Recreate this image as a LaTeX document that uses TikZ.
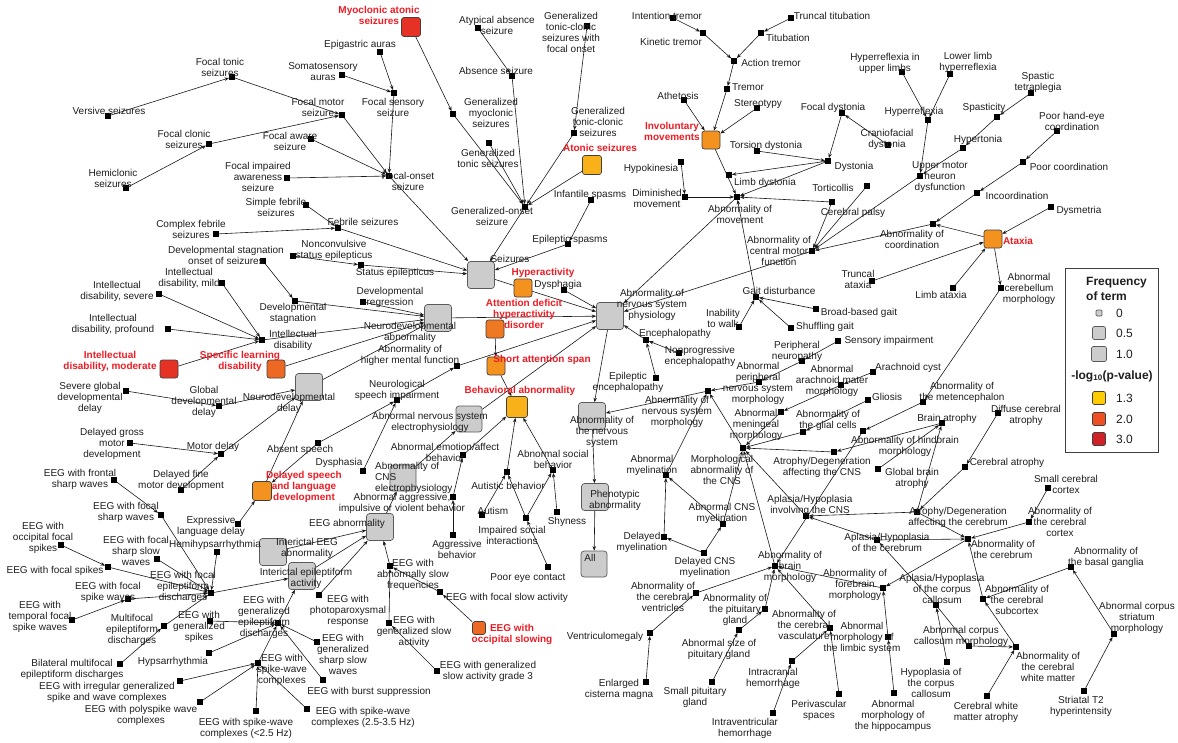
\documentclass[tikz,border=0pt]{standalone}
\usepackage{fontspec}
\setmainfont{Liberation Sans}
\usetikzlibrary{arrows.meta}
\pgfdeclarelayer{edges}
\pgfsetlayers{edges,main}
\definecolor{txt}{RGB}{30,30,30}
\definecolor{redtxt}{RGB}{236,28,36}
\definecolor{gfill}{RGB}{204,204,204}
\definecolor{gdraw}{RGB}{90,90,90}
\definecolor{cYel}{RGB}{249,177,26}
\definecolor{cOra}{RGB}{244,146,32}
\definecolor{cOrb}{RGB}{239,120,34}
\definecolor{cOrc}{RGB}{237,104,35}
\definecolor{cRed}{RGB}{229,50,36}
\definecolor{lYel}{RGB}{255,204,0}
\definecolor{lOra}{RGB}{240,78,35}
\definecolor{lRed}{RGB}{210,32,39}
\tikzset{
 mk/.style={rectangle,fill=black,minimum size=5.5pt,inner sep=0pt},
 gbox/.style={rectangle,rounded corners=3pt,draw=gdraw,fill=gfill,line width=0.7pt,inner sep=0pt},
 cbox/.style={rectangle,rounded corners=2.5pt,draw=black!75,line width=0.7pt,inner sep=0pt},
 lbl/.style={font=\fontsize{10}{11}\selectfont,align=center,inner sep=0pt,text=txt},
 rlbl/.style={lbl,font=\fontsize{10}{11}\selectfont\bfseries,text=redtxt},
 ed/.style={draw=black!90,line width=0.6pt,-{Stealth[length=4.5pt,width=3.5pt]}},
 lgt/.style={font=\fontsize{12}{15}\selectfont\bfseries,align=left,inner sep=0pt,text=txt},
 lgn/.style={font=\fontsize{12}{14}\selectfont,inner sep=0pt,text=txt,anchor=west},
}
\newcommand\Mk[3]{\node[mk] (#1) at (#2,#3) {};}
\newcommand\Gb[4][27]{\node[gbox,minimum size=#1pt] (#2) at (#3,#4) {};}
\newcommand\Cb[5][18]{\node[cbox,minimum size=#1pt,fill=#5] (#2) at (#3,#4) {};}
\newcommand\Lb[4]{\node[lbl] (#1-l) at (#2,#3) {#4};}
\newcommand\Rb[4]{\node[rlbl] (#1-l) at (#2,#3) {#4};}
\newcommand\Ed[2]{\draw[ed] (#1) -- (#2);}
\begin{document}
\begin{tikzpicture}[x=1pt,y=-1pt]
\useasboundingbox (0,0) rectangle (1178,742);
% ---------------- markers and boxes ----------------
% seizures
\Mk{ftonic}{232}{77}\Mk{versive}{108}{116}\Mk{fclonic}{209}{144}\Mk{hemiclonic}{126}{188}
\Mk{fimpaired}{287}{178}\Mk{sfebrile}{306}{205}\Mk{cfebrile}{216}{234}\Mk{febrile}{338}{228}
\Mk{fmotor}{342}{115}\Mk{faware}{311}{139}\Mk{epigastric}{380}{52}\Mk{somato}{342}{75}
\Mk{fsensory}{394}{93}\Mk{fonset}{389}{176}
\Cb[19]{myoatonic}{411}{27}{cRed}
\Mk{genmyo}{453}{114}\Mk{atypabs}{478}{28}\Mk{absence}{512}{76}\Mk{gentonic}{489}{143}
\Mk{gtcsfocal}{587}{26}\Mk{gtcs}{574}{133}
\Cb[19]{atonic}{592}{165}{cYel}
\Mk{genonset}{525}{207}\Mk{infspasm}{591}{200}\Mk{epispasm}{568}{244}
\Mk{ncse}{293}{256}\Mk{statusep}{361}{265}
\Gb{seizures}{481}{275}
% movement
\Mk{inttremor}{673}{18}\Mk{kintremor}{703}{33}\Mk{trunctit}{791}{18}\Mk{titubation}{761}{33}
\Mk{actremor}{734}{61}\Mk{tremor}{727}{89}\Mk{athetosis}{684}{100}\Mk{stereotypy}{757}{108}
\Cb{invol}{711}{140}{cOra}
\Mk{hypokin}{681}{162}\Mk{dimmov}{685}{197}\Mk{abnmov}{737}{197}\Mk{torsion}{757}{151}
\Mk{focdyst}{842}{113}\Mk{dystonia}{828}{161}\Mk{cranio}{888}{145}\Mk{limbdyst}{729}{175}
\Mk{torticollis}{867}{186}\Mk{cpalsy}{832}{202}
% motor function
\Mk{hruppr}{902}{72}\Mk{llhyper}{950}{74}\Mk{hyperrefl}{928}{120}\Mk{umn}{920}{176}
\Mk{spastetra}{1031}{93}\Mk{spasticity}{997}{117}\Mk{hypertonia}{963}{148}
\Mk{handeye}{1057}{131}\Mk{poorcoord}{1023}{162}\Mk{incoord}{977}{193}\Mk{abncoord}{933}{224}
\Mk{dysmetria}{1051}{207}
\Cb{ataxia}{993}{239}{cOra}
\Mk{truncataxia}{872}{281}\Mk{limbataxia}{953}{288}\Mk{cerebellum}{1001}{288}
\Mk{cmotor}{812}{251}
\Mk{gait}{756}{297}\Mk{inabwalk}{739}{327}\Mk{broadgait}{816}{309}\Mk{shuffgait}{791}{328}
% NS physiology
\Gb{nsphys}{610}{316}
\Mk{dysphagia}{564}{290}\Mk{enceph}{646}{340}\Mk{nonprog}{679}{353}\Mk{epienceph}{656}{378}
% neurodevelopment
\Gb{neurodevabn}{438}{318}
\Mk{devstagonset}{263}{261}\Mk{devstag}{295}{301}\Mk{devregr}{363}{302}
\Mk{idmild}{222}{283}\Mk{idsevere}{159}{294}\Mk{idprofound}{168}{329}
\Cb{idmoderate}{169}{369}{cRed}
\Mk{id}{262}{340}
\Cb{speclearn}{276}{369}{cOrc}
\Gb{neurodevdelay}{309}{387}
\Mk{gdd}{219}{406}\Mk{sgdd}{126}{391}\Mk{motordelay}{221}{454}\Mk{grossmotor}{130}{443}
\Mk{finemotor}{181}{490}
\Cb[19]{delspeech}{262}{491}{cOra}
\Mk{explang}{238}{524}\Mk{absentspeech}{318}{443}
\Mk{highermental}{457}{366}\Mk{speechimp}{397}{400}\Mk{dysphasia}{363}{471}
% behaviour
\Cb{hyperact}{523}{288}{cOra}
\Cb{adhd}{495}{329}{cOrb}
\Cb{shortatt}{496}{366}{cOra}
\Cb[21]{behav}{517}{407}{cYel}
\Mk{emotion}{463}{455}\Mk{aggrimp}{453}{497}\Mk{aggr}{453}{535}\Mk{autistic}{507}{472}
\Mk{socialbeh}{553}{470}\Mk{autism}{482}{515}\Mk{impsocial}{526}{518}\Mk{shyness}{557}{512}
\Mk{eyecontact}{548}{567}
% electrophysiology
\Gb[26]{nselectro}{469}{419}
\Gb[26]{cnselectro}{403}{478}
\Gb{eegabn}{380}{527}
\Gb{interictaleeg}{273}{552}
\Gb{interictalepi}{302}{576}
\Mk{photopar}{319}{595}\Mk{slowfreq}{390}{566}\Mk{focalslow}{440}{592}
\Cb[13]{occslow}{479}{628}{cOrc}
\Mk{genslow}{389}{623}\Mk{genslow3}{437}{671}\Mk{gensharpslow}{317}{642}\Mk{burst}{323}{680}
\Mk{sw2535}{307}{709}\Mk{frontalsharp}{114}{480}\Mk{focalsharp}{161}{515}\Mk{focalepi}{211}{593}
\Mk{hemihyps}{217}{552}\Mk{focalsharpslow}{157}{559}\Mk{occspikes}{61}{545}\Mk{focalspikes}{108}{567}
\Mk{focalspikewave}{128}{599}\Mk{tempspike}{72}{620}\Mk{multifocal}{164}{626}\Mk{bilatmulti}{120}{664}
\Mk{genspikes}{210}{621}\Mk{genepi}{278}{623}\Mk{hyps}{209}{653}\Mk{spikewave}{258}{663}
\Mk{irregsw}{180}{681}\Mk{polyspike}{200}{702}\Mk{sw25}{256}{711}
% nervous system
\Gb{abnns}{592}{416}
\Gb{phenotypic}{595}{497}
\Gb[26]{all}{594}{564}
\Mk{nsmorph}{708}{391}\Mk{sensimp}{838}{341}\Mk{periphneuro}{802}{361}\Mk{periphmorph}{759}{382}
\Mk{arachcyst}{873}{372}\Mk{arachmorph}{841}{385}\Mk{meningeal}{781}{412}\Mk{cnsmorph}{743}{448}
\Mk{gliosis}{868}{400}\Mk{glial}{803}{432}\Mk{hindbrain}{863}{431}\Mk{metenceph}{923}{402}
\Mk{brainatrophy}{942}{423}\Mk{diffatrophy}{998}{413}\Mk{cerebatrophy}{965}{467}
\Mk{globalatrophy}{878}{469}\Mk{atrophycns}{834}{452}
\Mk{abnmyel}{666}{475}\Mk{cnsmyel}{723}{524}\Mk{delcnsmyel}{704}{553}\Mk{delmyel}{664}{537}
\Mk{aplcns}{806}{516}\Mk{brainmorph}{775}{566}
\Mk{ventricles}{696}{593}\Mk{ventriculomegaly}{650}{633}\Mk{cisterna}{646}{682}
\Mk{pituitary}{765}{609}\Mk{pitsize}{739}{630}\Mk{smallpit}{712}{682}
\Mk{vasc}{830}{628}\Mk{intracran}{792}{661}\Mk{intravent}{773}{713}\Mk{perivasc}{839}{694}
\Mk{forebrain}{883}{588}\Mk{limbic}{888}{637}\Mk{hippo}{894}{693}
\Mk{aplcerebrum}{877}{540}\Mk{atrophycerebrum}{917}{512}\Mk{cerebrum}{968}{539}
\Mk{cortex}{1029}{522}\Mk{smallcortex}{1048}{488}\Mk{subcortex}{983}{599}
\Mk{basalg}{1071}{567}\Mk{striatum}{1114}{634}\Mk{striatalt2}{1084}{691}
\Mk{aplcc}{936}{605}\Mk{ccmorph}{969}{646}\Mk{whitematter}{1016}{647}
\Mk{hypocc}{947}{662}\Mk{wmatrophy}{987}{696}
% ---------------- edges ----------------
\begin{pgfonlayer}{edges}
\Ed{versive}{ftonic}\Ed{hemiclonic}{fclonic}\Ed{ftonic}{fmotor}\Ed{fclonic}{fmotor}
\Ed{fmotor}{fonset}\Ed{faware}{fonset}\Ed{fimpaired}{fonset}\Ed{epigastric}{fsensory}
\Ed{somato}{fsensory}\Ed{fsensory}{fonset}\Ed{fonset}{seizures}
\Ed{myoatonic}{genmyo}\Ed{genmyo}{genonset}\Ed{atypabs}{absence}\Ed{absence}{genonset}
\Ed{gentonic}{genonset}\Ed{gtcsfocal}{gtcs}\Ed{gtcs}{genonset}\Ed{atonic}{genonset}
\Ed{genonset}{seizures}\Ed{sfebrile}{febrile}\Ed{cfebrile}{febrile}\Ed{febrile}{seizures}
\Ed{ncse}{statusep}\Ed{statusep}{seizures}\Ed{infspasm}{epispasm}\Ed{epispasm}{seizures}
\Ed{seizures}{nsphys}
\Ed{inttremor}{kintremor}\Ed{kintremor}{actremor}\Ed{trunctit}{titubation}\Ed{titubation}{actremor}
\Ed{actremor}{tremor}\Ed{tremor}{invol}\Ed{athetosis}{invol}\Ed{stereotypy}{invol}
\Ed{invol}{abnmov}\Ed{hypokin}{dimmov}\Ed{dimmov}{abnmov}\Ed{torsion}{dystonia}
\Ed{focdyst}{dystonia}\Ed{cranio}{focdyst}\Ed{dystonia}{limbdyst}\Ed{dystonia}{abnmov}
\Ed{cpalsy}{abnmov}\Ed{torticollis}{cmotor}\Ed{cpalsy}{cmotor}
\Ed{hruppr}{hyperrefl}\Ed{llhyper}{hyperrefl}\Ed{hyperrefl}{umn}\Ed{spastetra}{spasticity}
\Ed{spasticity}{hypertonia}\Ed{hypertonia}{umn}\Ed{umn}{cmotor}\Ed{handeye}{poorcoord}
\Ed{poorcoord}{incoord}\Ed{incoord}{abncoord}\Ed{dysmetria}{ataxia}\Ed{ataxia}{abncoord}
\Ed{abncoord}{cmotor}\Ed{truncataxia}{ataxia}\Ed{limbataxia}{ataxia}\Ed{ataxia}{cerebellum}
\Ed{cmotor}{nsphys}\Ed{abnmov}{nsphys}
\Ed{inabwalk}{gait}\Ed{broadgait}{gait}\Ed{shuffgait}{gait}\Ed{gait}{abnmov}
\Ed{dysphagia}{nsphys}\Ed{enceph}{nsphys}\Ed{nonprog}{enceph}\Ed{epienceph}{enceph}
\Ed{devstagonset}{devstag}\Ed{devstag}{neurodevabn}\Ed{devregr}{neurodevabn}
\Ed{idmild}{id}\Ed{idsevere}{id}\Ed{idprofound}{id}\Ed{idmoderate}{id}\Ed{id}{neurodevabn}
\Ed{speclearn}{neurodevabn}\Ed{neurodevdelay}{neurodevabn}\Ed{neurodevabn}{nsphys}
\Ed{sgdd}{gdd}\Ed{gdd}{neurodevdelay}\Ed{grossmotor}{motordelay}\Ed{finemotor}{motordelay}
\Ed{motordelay}{neurodevdelay}\Ed{delspeech}{neurodevdelay}\Ed{explang}{delspeech}
\Ed{absentspeech}{delspeech}\Ed{absentspeech}{speechimp}
\Ed{speechimp}{highermental}\Ed{dysphasia}{speechimp}\Ed{highermental}{nsphys}
\Ed{adhd}{shortatt}\Ed{shortatt}{behav}
\Ed{emotion}{behav}\Ed{aggrimp}{emotion}\Ed{aggr}{aggrimp}\Ed{autistic}{behav}
\Ed{socialbeh}{behav}\Ed{autism}{autistic}\Ed{impsocial}{autistic}\Ed{impsocial}{socialbeh}
\Ed{shyness}{socialbeh}\Ed{eyecontact}{impsocial}
\Ed{cnselectro}{nselectro}\Ed{nselectro}{nsphys}\Ed{eegabn}{cnselectro}
\Ed{interictaleeg}{eegabn}\Ed{interictalepi}{eegabn}\Ed{photopar}{eegabn}\Ed{slowfreq}{eegabn}
\Ed{focalslow}{slowfreq}\Ed{occslow}{focalslow}\Ed{genslow}{slowfreq}\Ed{genslow3}{genslow}
\Ed{gensharpslow}{genepi}\Ed{burst}{genepi}\Ed{sw2535}{spikewave}
\Ed{frontalsharp}{focalsharp}\Ed{focalsharp}{focalepi}\Ed{hemihyps}{focalepi}
\Ed{focalsharpslow}{focalepi}\Ed{occspikes}{focalspikes}\Ed{focalspikes}{focalepi}
\Ed{focalspikewave}{focalepi}\Ed{tempspike}{focalspikewave}\Ed{multifocal}{focalepi}
\Ed{bilatmulti}{multifocal}\Ed{focalepi}{interictalepi}\Ed{genspikes}{genepi}
\Ed{genepi}{interictalepi}\Ed{hyps}{genepi}\Ed{spikewave}{genepi}\Ed{irregsw}{spikewave}
\Ed{polyspike}{spikewave}\Ed{sw25}{spikewave}
\Ed{nsphys}{abnns}\Ed{nsmorph}{abnns}\Ed{abnns}{phenotypic}\Ed{phenotypic}{all}
\Ed{sensimp}{periphneuro}\Ed{periphneuro}{periphmorph}\Ed{periphmorph}{nsmorph}
\Ed{arachcyst}{arachmorph}\Ed{arachmorph}{meningeal}\Ed{meningeal}{cnsmorph}
\Ed{cnsmorph}{nsmorph}\Ed{gliosis}{glial}\Ed{glial}{cnsmorph}\Ed{cerebellum}{metenceph}
\Ed{metenceph}{hindbrain}\Ed{hindbrain}{brainmorph}\Ed{brainatrophy}{atrophycns}
\Ed{globalatrophy}{brainatrophy}\Ed{atrophycns}{cnsmorph}\Ed{diffatrophy}{cerebatrophy}
\Ed{cerebatrophy}{atrophycerebrum}\Ed{atrophycerebrum}{brainatrophy}
\Ed{abnmyel}{nsmorph}\Ed{cnsmyel}{abnmyel}\Ed{cnsmyel}{cnsmorph}\Ed{delcnsmyel}{cnsmyel}
\Ed{delcnsmyel}{delmyel}\Ed{delmyel}{abnmyel}\Ed{brainmorph}{cnsmorph}\Ed{aplcns}{cnsmorph}
\Ed{ventricles}{brainmorph}\Ed{ventriculomegaly}{ventricles}\Ed{cisterna}{ventriculomegaly}
\Ed{pituitary}{brainmorph}\Ed{pitsize}{pituitary}\Ed{smallpit}{pitsize}\Ed{vasc}{brainmorph}
\Ed{intracran}{vasc}\Ed{intravent}{intracran}\Ed{perivasc}{vasc}\Ed{forebrain}{brainmorph}
\Ed{limbic}{forebrain}\Ed{hippo}{limbic}\Ed{aplcerebrum}{aplcns}\Ed{aplcerebrum}{cerebrum}
\Ed{atrophycerebrum}{cerebrum}\Ed{atrophycerebrum}{aplcns}\Ed{cortex}{cerebrum}
\Ed{smallcortex}{cortex}\Ed{cerebrum}{forebrain}\Ed{subcortex}{cerebrum}\Ed{basalg}{subcortex}
\Ed{striatum}{basalg}\Ed{striatalt2}{striatum}\Ed{hypocc}{aplcc}\Ed{aplcc}{aplcerebrum}
\Ed{aplcc}{ccmorph}\Ed{ccmorph}{whitematter}\Ed{wmatrophy}{whitematter}\Ed{whitematter}{subcortex}
\end{pgfonlayer}
% ---------------- labels ----------------
\Lb{ftonic}{220}{67}{Focal tonic\\seizures}
\Lb{versive}{109}{111}{Versive seizures}
\Lb{fclonic}{184}{139}{Focal clonic\\seizures}
\Lb{hemiclonic}{113}{178}{Hemiclonic\\seizures}
\Lb{fimpaired}{258}{177}{Focal impaired\\awareness\\seizure}
\Lb{sfebrile}{276}{207}{Simple febrile\\seizures}
\Lb{cfebrile}{191}{229}{Complex febrile\\seizures}
\Lb{febrile}{363}{222}{Febrile seizures}
\Lb{fmotor}{318}{107}{Focal motor\\seizure}
\Lb{faware}{290}{141}{Focal aware\\seizure}
\Lb{epigastric}{360}{45}{Epigastric auras}
\Lb{somato}{323}{72}{Somatosensory\\auras}
\Lb{fsensory}{393}{107}{Focal sensory\\seizure}
\Lb{fonset}{408}{181}{Focal-onset\\seizure}
\Rb{myoatonic}{379}{15}{Myoclonic atonic\\seizures}
\Lb{genmyo}{491}{113}{Generalized\\myoclonic\\seizures}
\Lb{atypabs}{497}{25}{Atypical absence\\seizure}
\Lb{absence}{496}{71}{Absence seizure}
\Lb{gentonic}{488}{158}{Generalized\\tonic seizures}
\Lb{gtcsfocal}{571}{32}{Generalized\\tonic-clonic\\seizures with\\focal onset}
\Lb{gtcs}{598}{122}{Generalized\\tonic-clonic\\seizures}
\Rb{atonic}{600}{148}{Atonic seizures}
\Lb{genonset}{492}{216}{Generalized-onset\\seizure}
\Lb{infspasm}{590}{195}{Infantile spasms}
\Lb{epispasm}{570}{240}{Epileptic spasms}
\Lb{ncse}{334}{250}{Nonconvulsive\\status epilepticus}
\Lb{statusep}{395}{273}{Status epilepticus}
\Lb{seizures}{510}{259}{Seizures}
\Lb{inttremor}{667}{16}{Intention tremor}
\Lb{kintremor}{671}{42}{Kinetic tremor}
\Lb{trunctit}{832}{16}{Truncal titubation}
\Lb{titubation}{788}{38}{Titubation}
\Lb{actremor}{771}{63}{Action tremor}
\Lb{tremor}{748}{87}{Tremor}
\Lb{athetosis}{678}{96}{Athetosis}
\Lb{stereotypy}{758}{104}{Stereotypy}
\Rb{invol}{672}{131}{Involuntary\\movements}
\Lb{hypokin}{651}{169}{Hypokinesia}
\Lb{dimmov}{657}{198}{Diminished\\movement}
\Lb{abnmov}{740}{214}{Abnormality of\\movement}
\Lb{torsion}{766}{146}{Torsion dystonia}
\Lb{focdyst}{833}{108}{Focal dystonia}
\Lb{dystonia}{854}{167}{Dystonia}
\Lb{cranio}{887}{139}{Craniofacial\\dystonia}
\Lb{limbdyst}{765}{183}{Limb dystonia}
\Lb{torticollis}{833}{188}{Torticollis}
\Lb{cpalsy}{853}{213}{Cerebral palsy}
\Lb{hruppr}{885}{63}{Hyperreflexia in\\upper limbs}
\Lb{llhyper}{968}{62}{Lower limb\\hyperreflexia}
\Lb{hyperrefl}{914}{112}{Hyperreflexia}
\Lb{umn}{940}{177}{Upper motor\\neuron\\dysfunction}
\Lb{spastetra}{1038}{82}{Spastic\\tetraplegia}
\Lb{spasticity}{984}{108}{Spasticity}
\Lb{hypertonia}{978}{140}{Hypertonia}
\Lb{handeye}{1072}{121}{Poor hand-eye\\coordination}
\Lb{poorcoord}{1069}{167}{Poor coordination}
\Lb{incoord}{1017}{196}{Incoordination}
\Lb{abncoord}{912}{239}{Abnormality of\\coordination}
\Lb{dysmetria}{1079}{211}{Dysmetria}
\Rb{ataxia}{1018}{241}{Ataxia}
\Lb{truncataxia}{858}{279}{Truncal\\ataxia}
\Lb{limbataxia}{941}{295}{Limb ataxia}
\Lb{cerebellum}{1029}{289}{Abnormal\\cerebellum\\morphology}
\Lb{cmotor}{779}{251}{Abnormality of\\central motor\\function}
\Lb{gait}{779}{291}{Gait disturbance}
\Lb{inabwalk}{723}{318}{Inability\\to walk}
\Lb{broadgait}{859}{313}{Broad-based gait}
\Lb{shuffgait}{825}{327}{Shuffling gait}
\Lb{nsphys}{652}{305}{Abnormality of\\nervous system\\physiology}
\Lb{dysphagia}{558}{285}{Dysphagia}
\Lb{enceph}{675}{334}{Encephalopathy}
\Lb{nonprog}{700}{356}{Nonprogressive\\encephalopathy}
\Lb{epienceph}{628}{382}{Epileptic\\encephalopathy}
\Lb{neurodevabn}{410}{332}{Neurodevelopmental\\abnormality}
\Lb{devstagonset}{226}{255}{Developmental stagnation\\onset of seizures}
\Lb{devstag}{293}{313}{Developmental\\stagnation}
\Lb{devregr}{390}{297}{Developmental\\regression}
\Lb{idmild}{189}{278}{Intellectual\\disability, mild}
\Lb{idsevere}{117}{291}{Intellectual\\disability, severe}
\Lb{idprofound}{113}{324}{Intellectual\\disability, profound}
\Rb{idmoderate}{110}{361}{Intellectual\\disability, moderate}
\Lb{id}{293}{340}{Intellectual\\disability}
\Rb{speclearn}{240}{361}{Specific learning\\disability}
\Lb{neurodevdelay}{289}{403}{Neurodevelopmental\\delay}
\Lb{gdd}{204}{402}{Global\\developmental\\delay}
\Lb{sgdd}{90}{398}{Severe global\\developmental\\delay}
\Lb{motordelay}{213}{447}{Motor delay}
\Lb{grossmotor}{112}{444}{Delayed gross\\motor\\development}
\Lb{finemotor}{181}{480}{Delayed fine\\motor development}
\Rb{delspeech}{304}{487}{Delayed speech\\and language\\development}
\Lb{explang}{211}{526}{Expressive\\language delay}
\Lb{absentspeech}{300}{450}{Absent speech}
\Lb{highermental}{410}{355}{Abnormality of\\higher mental function}
\Lb{speechimp}{397}{390}{Neurological\\speech impairment}
\Lb{dysphasia}{339}{463}{Dysphasia}
\Rb{hyperact}{543}{273}{Hyperactivity}
\Rb{adhd}{524}{314}{Attention deficit\\hyperactivity\\disorder}
\Rb{shortatt}{542}{360}{Short attention span}
\Rb{behav}{520}{391}{Behavioral abnormality}
\Lb{emotion}{445}{452}{Abnormal emotion/affect\\behavior}
\Lb{aggrimp}{402}{503}{Abnormal aggressive,\\impulsive or violent behavior}
\Lb{aggr}{457}{549}{Aggressive\\behavior}
\Lb{autistic}{508}{486}{Autistic behavior}
\Lb{socialbeh}{553}{459}{Abnormal social\\behavior}
\Lb{autism}{493}{511}{Autism}
\Lb{impsocial}{512}{535}{Impaired social\\interactions}
\Lb{shyness}{567}{522}{Shyness}
\Lb{eyecontact}{528}{578}{Poor eye contact}
\Lb{nselectro}{430}{422}{Abnormal nervous system\\electrophysiology}
\node[lbl,align=left,anchor=west] (cnselectro-l) at (375,478) {Abnormality of\\CNS\\electrophysiology};
\Lb{eegabn}{347}{524}{EEG abnormality}
\Lb{interictaleeg}{307}{548}{Interictal EEG\\abnormality}
\Lb{interictalepi}{306}{578}{Interictal epileptiform\\activity}
\Lb{photopar}{348}{611}{EEG with\\photoparoxysmal\\response}
\Lb{slowfreq}{413}{575}{EEG with\\abnormally slow\\frequencies}
\Lb{focalslow}{507}{598}{EEG with focal slow activity}
\Rb{occslow}{512}{634}{EEG with\\occipital slowing}
\Lb{genslow}{414}{632}{EEG with\\generalized slow\\activity}
\Lb{genslow3}{488}{671}{EEG with generalized\\slow activity grade 3}
\Lb{gensharpslow}{343}{654}{EEG with\\generalized\\sharp slow\\waves}
\Lb{burst}{369}{692}{EEG with burst suppression}
\Lb{sw2535}{363}{717}{EEG with spike-wave\\complexes (2.5-3.5 Hz)}
\Lb{frontalsharp}{80}{479}{EEG with frontal\\sharp waves}
\Lb{focalsharp}{126}{512}{EEG with focal\\sharp waves}
\Lb{focalepi}{183}{587}{EEG with focal\\epileptiform\\discharges}
\Lb{hemihyps}{215}{545}{Hemihypsarrhythmia}
\Lb{focalsharpslow}{136}{551}{EEG with focal\\sharp slow\\waves}
\Lb{occspikes}{43}{538}{EEG with\\occipital focal\\spikes}
\Lb{focalspikes}{55}{571}{EEG with focal spikes}
\Lb{focalspikewave}{108}{592}{EEG with focal\\spike waves}
\Lb{tempspike}{40}{617}{EEG with\\temporal focal\\spike waves}
\Lb{multifocal}{132}{630}{Multifocal\\epileptiform\\discharges}
\Lb{bilatmulti}{72}{669}{Bilateral multifocal\\epileptiform discharges}
\Lb{genspikes}{199}{627}{EEG with\\generalized\\spikes}
\Lb{genepi}{264}{617}{EEG with\\generalized\\epileptiform\\discharges}
\Lb{hyps}{173}{662}{Hypsarrhythmia}
\Lb{spikewave}{282}{670}{EEG with\\spike-wave\\complexes}
\Lb{irregsw}{107}{692}{EEG with irregular generalized\\spike and wave complexes}
\Lb{polyspike}{141}{715}{EEG with polyspike wave\\complexes}
\Lb{sw25}{246}{728}{EEG with spike-wave\\complexes (<2.5 Hz)}
\Lb{abnns}{602}{432}{Abnormality of\\the nervous\\system}
\Lb{phenotypic}{615}{500}{Phenotypic\\abnormality}
\Lb{all}{590}{558}{All}
\Lb{nsmorph}{677}{412}{Abnormality of\\nervous system\\morphology}
\Lb{sensimp}{889}{341}{Sensory impairment}
\Lb{periphneuro}{797}{351}{Peripheral\\neuropathy}
\Lb{periphmorph}{758}{383}{Abnormal\\peripheral\\nervous system\\morphology}
\Lb{arachcyst}{908}{368}{Arachnoid cyst}
\Lb{arachmorph}{832}{381}{Abnormal\\arachnoid mater\\morphology}
\Lb{meningeal}{756}{425}{Abnormal\\meningeal\\morphology}
\Lb{cnsmorph}{722}{470}{Morphological\\abnormality of\\the CNS}
\Lb{gliosis}{887}{397}{Gliosis}
\Lb{glial}{828}{420}{Abnormality of\\the glial cells}
\Lb{hindbrain}{905}{446}{Abnormality of hindbrain\\morphology}
\Lb{metenceph}{962}{392}{Abnormality of\\the metencephalon}
\Lb{brainatrophy}{947}{419}{Brain atrophy}
\Lb{diffatrophy}{1026}{415}{Diffuse cerebral\\atrophy}
\Lb{cerebatrophy}{1007}{463}{Cerebral atrophy}
\Lb{globalatrophy}{912}{478}{Global brain\\atrophy}
\Lb{atrophycns}{822}{467}{Atrophy/Degeneration\\affecting the CNS}
\Lb{abnmyel}{652}{465}{Abnormal\\myelination}
\Lb{cnsmyel}{722}{513}{Abnormal CNS\\myelination}
\Lb{delcnsmyel}{705}{567}{Delayed CNS\\myelination}
\Lb{delmyel}{642}{542}{Delayed\\myelination}
\Lb{aplcns}{810}{505}{Aplasia/Hypoplasia\\involving the CNS}
\Lb{brainmorph}{790}{567}{Abnormality of\\brain\\morphology}
\Lb{ventricles}{663}{597}{Abnormality of\\the cerebral\\ventricles}
\Lb{ventriculomegaly}{605}{637}{Ventriculomegaly}
\Lb{cisterna}{619}{689}{Enlarged\\cisterna magna}
\Lb{pituitary}{735}{610}{Abnormality of\\the pituitary\\gland}
\Lb{pitsize}{719}{649}{Abnormal size of\\pituitary gland}
\Lb{smallpit}{695}{697}{Small pituitary\\gland}
\Lb{vasc}{804}{625}{Abnormality of\\the cerebral\\vasculature}
\Lb{intracran}{773}{678}{Intracranial\\hemorrhage}
\Lb{intravent}{745}{728}{Intraventricular\\hemorrhage}
\Lb{perivasc}{819}{710}{Perivascular\\spaces}
\Lb{forebrain}{855}{585}{Abnormality of\\forebrain\\morphology}
\Lb{limbic}{862}{638}{Abnormal\\morphology of\\the limbic system}
\Lb{hippo}{893}{716}{Abnormal\\morphology of\\the hippocampus}
\Lb{aplcerebrum}{887}{542}{Aplasia/Hypoplasia\\of the cerebrum}
\Lb{atrophycerebrum}{958}{517}{Atrophy/Degeneration\\affecting the cerebrum}
\Lb{cerebrum}{1003}{549}{Abnormality of\\the cerebrum}
\Lb{cortex}{1060}{522}{Abnormality of\\the cerebral\\cortex}
\Lb{smallcortex}{1066}{484}{Small cerebral\\cortex}
\Lb{subcortex}{1017}{600}{Abnormality of\\the cerebral\\subcortex}
\Lb{basalg}{1106}{557}{Abnormality of\\the basal ganglia}
\Lb{striatum}{1137}{618}{Abnormal corpus\\striatum\\morphology}
\Lb{striatalt2}{1081}{706}{Striatal T2\\hyperintensity}
\Lb{aplcc}{942}{589}{Aplasia/Hypoplasia\\of the corpus\\callosum}
\Lb{ccmorph}{961}{636}{Abnormal corpus\\callosum morphology}
\Lb{whitematter}{1048}{667}{Abnormality of\\the cerebral\\white matter}
\Lb{hypocc}{931}{683}{Hypoplasia of\\the corpus\\callosum}
\Lb{wmatrophy}{986}{712}{Cerebral white\\matter atrophy}
% ---------------- legend ----------------
\node[draw=black!75,line width=0.8pt,minimum width=93pt,minimum height=184pt,inner sep=0pt] (legend) at (1111.5,360) {};
\node[lgt,anchor=west] (lg-freq) at (1086,288.5) {Frequency\\of term};
\node[gbox,rounded corners=1pt,minimum size=6pt] (lg-b0) at (1099,313) {};
\node[lgn] (lg-t0) at (1116,313) {0};
\node[gbox,rounded corners=2pt,minimum size=13pt] (lg-b1) at (1099,333) {};
\node[lgn] (lg-t1) at (1116,333) {0.5};
\node[gbox,rounded corners=2pt,minimum size=15pt] (lg-b2) at (1099,354) {};
\node[lgn] (lg-t2) at (1116,354) {1.0};
\node[lgt] (lg-p) at (1112,376) {-log\textsubscript{10}(p-value)};
\node[cbox,rounded corners=2pt,minimum size=13pt,fill=lYel] (lg-c1) at (1099,398) {};
\node[lgn] (lg-u1) at (1116,398) {1.3};
\node[cbox,rounded corners=2pt,minimum size=13pt,fill=lOra] (lg-c2) at (1099,419) {};
\node[lgn] (lg-u2) at (1116,419) {2.0};
\node[cbox,rounded corners=2pt,minimum size=13pt,fill=lRed] (lg-c3) at (1099,439) {};
\node[lgn] (lg-u3) at (1116,439) {3.0};
\end{tikzpicture}
\end{document}
